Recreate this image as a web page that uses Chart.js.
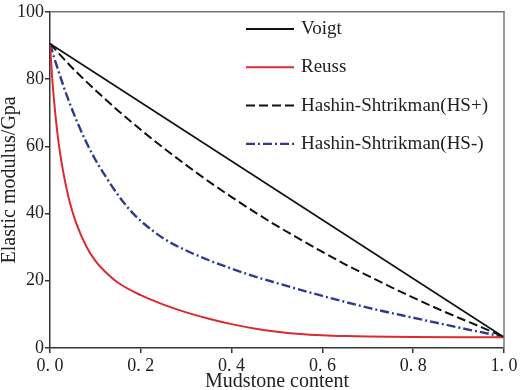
<!DOCTYPE html>
<html>
<head>
<meta charset="utf-8">
<script src="https://cdn.jsdelivr.net/npm/chart.js@4"></script>
<style>
  html, body { margin: 0; padding: 0; background: #fff; }
  #wrap { width: 520px; height: 390px; }
</style>
</head>
<body>
<div id="wrap"><canvas id="modChart" width="520" height="390"></canvas></div>
<script>
// values
const seriesNames = ['Voigt', 'Reuss', 'Hashin-Shtrikman(HS+)', 'Hashin-Shtrikman(HS-)'];

const voigtX = [0, 1];
const voigtY = [90.5, 3.2];

const reussX = [0, 0.005, 0.01, 0.015, 0.02, 0.03, 0.04, 0.05, 0.06, 0.08, 0.1, 0.12, 0.15, 0.2, 0.25, 0.3, 0.35, 0.4, 0.45, 0.5, 0.55, 0.6, 0.65, 0.7, 0.8, 0.9, 1.0];
const reussY = [90.5, 80, 72, 65.5, 60, 51.7, 45.3, 40.3, 36.3, 30.2, 25.9, 22.9, 19.4, 15.7, 12.9, 10.6, 8.7, 7.1, 5.8, 4.85, 4.2, 3.8, 3.55, 3.4, 3.25, 3.2, 3.2];

const hsPlusX = [0, 0.05, 0.1, 0.15, 0.2, 0.25, 0.3, 0.35, 0.4, 0.45, 0.5, 0.55, 0.6, 0.65, 0.7, 0.75, 0.8, 0.85, 0.9, 0.95, 1.0];
const hsPlusY = [90.5, 83.2, 76.7, 70.6, 64.9, 59.5, 54.4, 49.5, 44.9, 40.5, 36.3, 32.4, 28.6, 24.9, 21.5, 18.2, 15.0, 11.9, 9.0, 6.2, 3.3];

const hsMinusX = [0, 0.01, 0.02, 0.03, 0.04, 0.05, 0.06, 0.08, 0.1, 0.125, 0.15, 0.175, 0.2, 0.25, 0.3, 0.35, 0.4, 0.45, 0.5, 0.6, 0.7, 0.8, 0.9, 1.0];
const hsMinusY = [90.5, 86, 81.8, 77.8, 74, 70.5, 67.2, 61.2, 56, 50.5, 45.5, 41.2, 37.8, 32.6, 29.0, 26.1, 23.6, 21.3, 19.3, 15.5, 12.0, 9.0, 6.1, 3.3];

const xTickLabels = ['0. 0', '0. 2', '0. 4', '0. 6', '0. 8', '1. 0'];
const yTickLabels = ['0', '20', '40', '60', '80', '100'];

const FONT = "'Liberation Serif', 'Times New Roman', serif";
const TEXT = '#222';

function toPoints(xs, ys) {
    return xs.map((x, i) => ({ x: x, y: ys[i] }));
}

// grey top/right frame + legend inside the plot
const framePlugin = {
    id: 'frameAndLegend',
    afterDraw(chart) {
        const ctx = chart.ctx;
        const a = chart.chartArea;
        ctx.save();
        ctx.strokeStyle = '#777';
        ctx.lineWidth = 1.5;
        ctx.beginPath();
        ctx.moveTo(a.left, a.top);
        ctx.lineTo(a.right, a.top);
        ctx.lineTo(a.right, a.bottom);
        ctx.stroke();

        // legend
        const x0 = 246, x1 = 294, textX = 301;
        let y = 29;
        ctx.font = '19px ' + FONT;
        ctx.textBaseline = 'middle';
        ctx.textAlign = 'left';
        chart.data.datasets.forEach(ds => {
            ctx.strokeStyle = ds.borderColor;
            ctx.lineWidth = ds.borderWidth;
            ctx.setLineDash(ds.borderDash || []);
            ctx.beginPath();
            ctx.moveTo(x0, y);
            ctx.lineTo(x1, y);
            ctx.stroke();
            ctx.setLineDash([]);
            ctx.fillStyle = TEXT;
            ctx.fillText(ds.label, textX, y);
            y += 38.3;
        });
        ctx.restore();
    }
};

const ctx = document.getElementById('modChart');
const modChart = new Chart(ctx, {
    type: 'line',
    data: {
        datasets: [
            {
                label: seriesNames[0],
                data: toPoints(voigtX, voigtY),
                borderColor: '#111',
                borderWidth: 1.8
            },
            {
                label: seriesNames[1],
                data: toPoints(reussX, reussY),
                borderColor: '#dc2a30',
                borderWidth: 2
            },
            {
                label: seriesNames[2],
                data: toPoints(hsPlusX, hsPlusY),
                borderColor: '#111',
                borderWidth: 2,
                borderDash: [9, 4]
            },
            {
                label: seriesNames[3],
                data: toPoints(hsMinusX, hsMinusY),
                borderColor: '#2f3b8f',
                borderWidth: 2.4,
                borderDash: [9, 3, 2, 3]
            }
        ]
    },
    options: {
        animation: false,
        responsive: false,
        devicePixelRatio: 1,
        elements: {
            point: { radius: 0 },
            line: { cubicInterpolationMode: 'monotone', fill: false }
        },
        layout: { padding: { top: 7, right: 16, left: 0, bottom: 0 } },
        plugins: {
            legend: { display: false },
            tooltip: { enabled: false }
        },
        scales: {
            x: {
                type: 'linear',
                min: 0,
                max: 1,
                ticks: {
                    stepSize: 0.2,
                    color: TEXT,
                    padding: 2,
                    maxRotation: 0,
                    font: { family: FONT, size: 18 },
                    callback: (v, i) => xTickLabels[i]
                },
                grid: { drawOnChartArea: false, drawTicks: true, tickLength: 5, color: '#333', lineWidth: 1.5 },
                border: { display: true, color: '#333', width: 1.5 },
                title: {
                    display: true,
                    text: 'Mudstone content',
                    color: TEXT,
                    padding: 0,
                    font: { family: FONT, size: 20, lineHeight: 0.8 }
                },
                afterFit: (scale) => { scale.height = 42; }
            },
            y: {
                min: 0,
                max: 100,
                ticks: {
                    stepSize: 20,
                    color: TEXT,
                    padding: 1,
                    font: { family: FONT, size: 18 },
                    callback: (v, i) => yTickLabels[i]
                },
                grid: { drawOnChartArea: false, drawTicks: true, tickLength: 5, color: '#333', lineWidth: 1.5 },
                border: { display: true, color: '#333', width: 1.5 },
                title: {
                    display: true,
                    text: 'Elastic modulus/Gpa',
                    color: TEXT,
                    padding: 0,
                    font: { family: FONT, size: 20, lineHeight: 1 }
                },
                afterFit: (scale) => { scale.width = 50; }
            }
        }
    },
    plugins: [framePlugin]
});
</script>
</body>
</html>
